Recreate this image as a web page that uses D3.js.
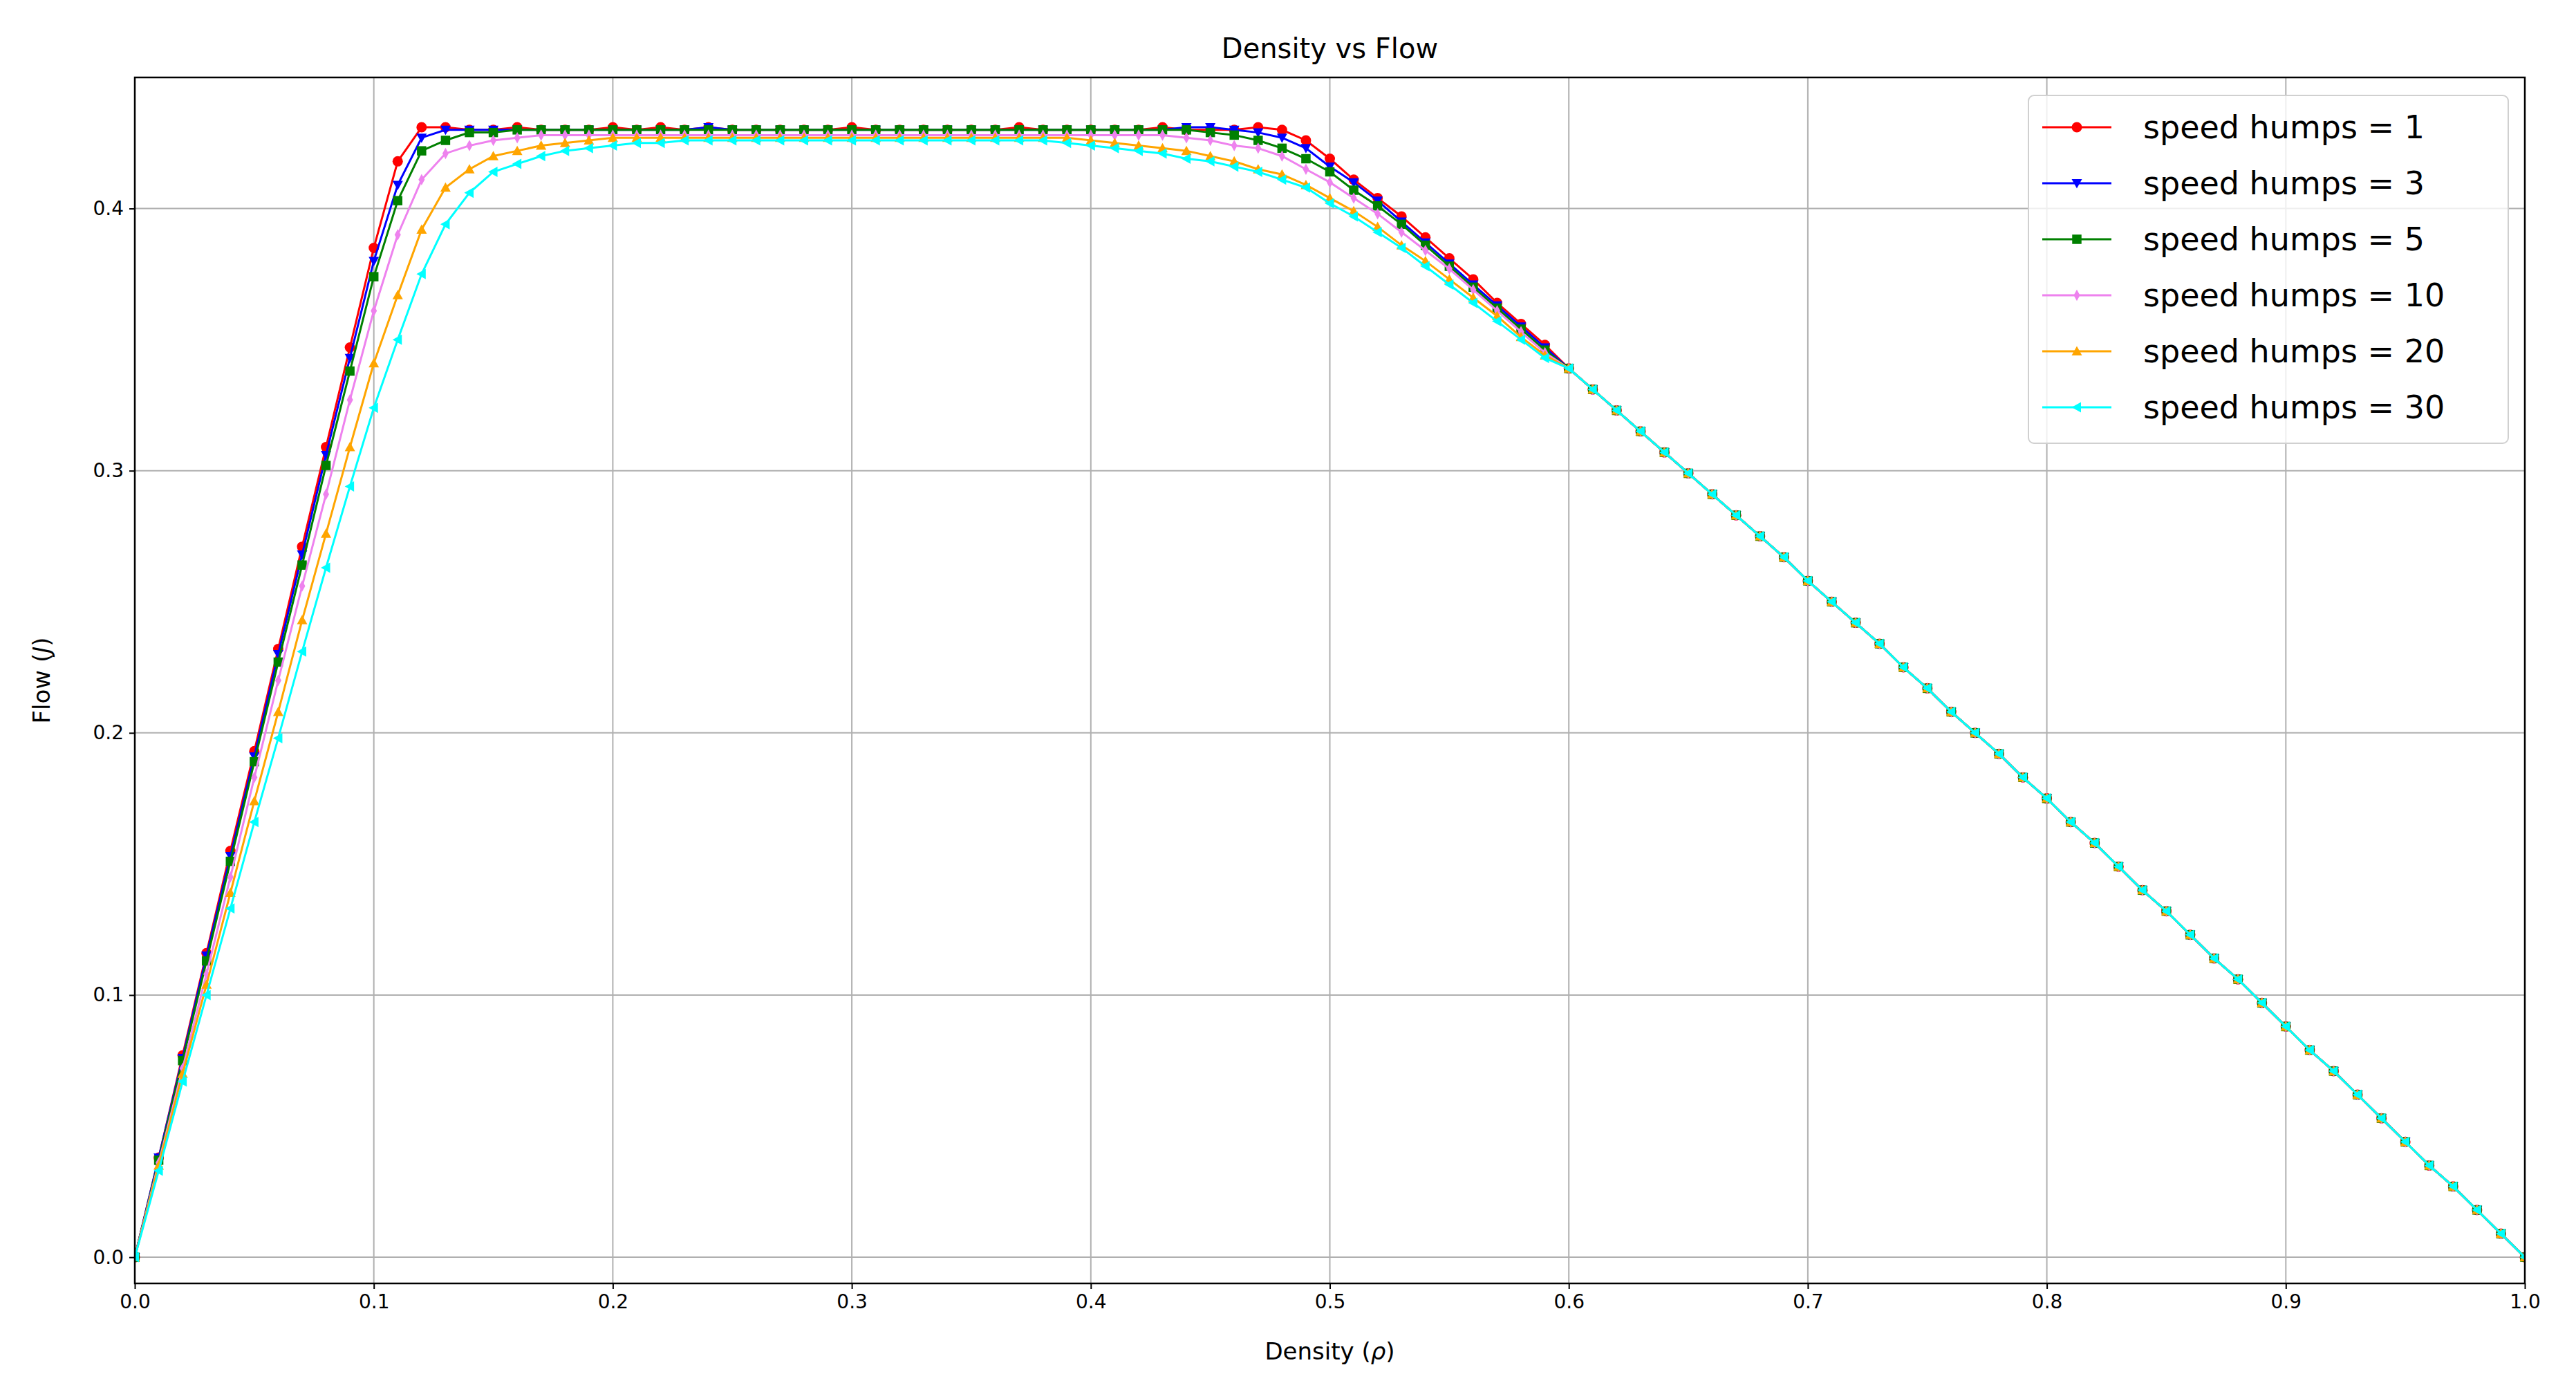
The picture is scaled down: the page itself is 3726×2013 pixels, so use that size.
<!DOCTYPE html>
<meta charset="utf-8">
<style>
body{margin:0;background:#fff}
text{font-family:"DejaVu Sans",sans-serif}
</style>
<script src="https://d3js.org/d3.v7.min.js"></script>
<svg width="3726" height="2013"></svg>
<script>
// density values 0.00 .. 1.00
const density = d3.range(0, 101).map(i => i / 100);

// shared high-density branch, rho = 0.60 .. 1.00
const tail = [.339,.331,.323,.315,.307,.299,.291,.283,.275,.267,
  .258,.250,.242,.234,.225,.217,.208,.200,.192,.183,
  .175,.166,.158,.149,.140,.132,.123,.114,.106,.097,
  .088,.079,.071,.062,.053,.044,.035,.027,.018,.009,
  0];

const humps1 = [0,.038,.077,.116,.155,.193,.232,.271,.309,.347,
  .385,.418,.431,.431,.430,.430,.431,.430,.430,.430,
  .431,.430,.431,.430,.431,.430,.430,.430,.430,.430,
  .431,.430,.430,.430,.430,.430,.430,.431,.430,.430,
  .430,.430,.430,.431,.430,.430,.430,.431,.430,.426,
  .419,.411,.404,.397,.389,.381,.373,.364,.356,.348].concat(tail);
const humps3 = [0,.038,.076,.115,.153,.191,.230,.268,.306,.343,
  .380,.409,.427,.430,.430,.430,.430,.430,.430,.430,
  .430,.430,.430,.430,.431,.430,.430,.430,.430,.430,
  .430,.430,.430,.430,.430,.430,.430,.430,.430,.430,
  .430,.430,.430,.430,.431,.431,.430,.429,.427,.423,
  .416,.410,.403,.395,.387,.379,.371,.363,.355,.347].concat(tail);
const humps5 = [0,.037,.075,.113,.151,.189,.227,.264,.302,.338,
  .374,.403,.422,.426,.429,.429,.430,.430,.430,.430,
  .430,.430,.430,.430,.430,.430,.430,.430,.430,.430,
  .430,.430,.430,.430,.430,.430,.430,.430,.430,.430,
  .430,.430,.430,.430,.430,.429,.428,.426,.423,.419,
  .414,.407,.401,.394,.386,.378,.370,.362,.354,.346].concat(tail);
const humps10 = [0,.036,.072,.108,.145,.183,.220,.256,.291,.327,
  .361,.390,.411,.421,.424,.426,.427,.428,.428,.428,
  .428,.428,.428,.428,.428,.428,.428,.428,.428,.428,
  .428,.428,.428,.428,.428,.428,.428,.428,.428,.428,
  .428,.428,.428,.428,.427,.426,.424,.423,.420,.415,
  .410,.404,.398,.391,.384,.377,.369,.361,.353,.345].concat(tail);
const humps20 = [0,.035,.070,.104,.139,.174,.208,.243,.276,.309,
  .341,.367,.392,.408,.415,.420,.422,.424,.425,.426,
  .427,.427,.427,.427,.427,.427,.427,.427,.427,.427,
  .427,.427,.427,.427,.427,.427,.427,.427,.427,.427,
  .426,.425,.424,.423,.422,.420,.418,.415,.413,.409,
  .404,.399,.393,.386,.380,.373,.366,.359,.351,.344].concat(tail);
const humps30 = [0,.033,.067,.100,.133,.166,.198,.231,.263,.294,
  .324,.350,.375,.394,.406,.414,.417,.420,.422,.423,
  .424,.425,.425,.426,.426,.426,.426,.426,.426,.426,
  .426,.426,.426,.426,.426,.426,.426,.426,.426,.425,
  .424,.423,.422,.421,.419,.418,.416,.414,.411,.408,
  .402,.397,.391,.385,.378,.371,.364,.357,.350,.343].concat(tail);

const labels = ["speed humps = 1","speed humps = 3","speed humps = 5","speed humps = 10","speed humps = 20","speed humps = 30"];
const colors = ["red","blue","green","violet","orange","cyan"];
const markers = ["circle","tdown","square","thindiamond","tup","tleft"];
const xTicks = [0,.1,.2,.3,.4,.5,.6,.7,.8,.9,1];
const yTicks = [0,.1,.2,.3,.4];

const series = [humps1,humps3,humps5,humps10,humps20,humps30];

const svg = d3.select('svg');
const pL = 195, pR = 3652, pT = 112, pB = 1856;
const x = d3.scaleLinear().domain([0,1]).range([pL,pR]);
const y = d3.scaleLinear().domain([-0.010,0.450]).range([pB,pT]);

function markerPath(m, r){
	switch(m){
		case "circle": return `M${r},0A${r},${r},0,1,1,${-r},0A${r},${r},0,1,1,${r},0Z`;
		case "square": r*=0.9; return `M${-r},${-r}H${r}V${r}H${-r}Z`;
		case "tdown": return `M${-r},${-r*0.8}L${r},${-r*0.8}L0,${r}Z`;
		case "tup": return `M${-r},${r*0.8}L${r},${r*0.8}L0,${-r}Z`;
		case "tleft": return `M${r*0.8},${-r}L${r*0.8},${r}L${-r},0Z`;
		case "thindiamond": return `M0,${-r*1.1}L${r*0.6},0L0,${r*1.1}L${-r*0.6},0Z`;
	}
}

// grid
svg.append('g').selectAll('line').data(xTicks).join('line')
	.attr('x1',d=>x(d)).attr('x2',d=>x(d)).attr('y1',pT).attr('y2',pB)
	.attr('stroke','#b0b0b0').attr('stroke-width',2);
svg.append('g').selectAll('line').data(yTicks).join('line')
	.attr('y1',d=>y(d)).attr('y2',d=>y(d)).attr('x1',pL).attr('x2',pR)
	.attr('stroke','#b0b0b0').attr('stroke-width',2);

svg.append('clipPath').attr('id','clip').append('rect')
	.attr('x',pL).attr('y',pT).attr('width',pR-pL).attr('height',pB-pT);

const line = d3.line().x((d,i)=>x(density[i])).y(d=>y(d));
const plot = svg.append('g').attr('clip-path','url(#clip)');
series.forEach((s,k)=>{
	const g = plot.append('g');
	g.append('path').attr('d',line(s)).attr('fill','none')
		.attr('stroke',colors[k]).attr('stroke-width',3);
	g.selectAll('path.m').data(s).join('path').attr('class','m')
		.attr('transform',(d,i)=>`translate(${x(density[i])},${y(d)})`)
		.attr('d',markerPath(markers[k],7.5)).attr('fill',colors[k]);
});

// axes
const xAxis = svg.append('g').attr('transform',`translate(0,${pB})`)
	.call(d3.axisBottom(x).tickValues(xTicks).tickFormat(d3.format('.1f')).tickSize(8).tickPadding(8));
const yAxis = svg.append('g').attr('transform',`translate(${pL},0)`)
	.call(d3.axisLeft(y).tickValues(yTicks).tickFormat(d3.format('.1f')).tickSize(8).tickPadding(8));
[xAxis,yAxis].forEach(a=>{
	a.select('.domain').remove();
	a.selectAll('line').attr('stroke','#000').attr('stroke-width',2);
	a.selectAll('text').attr('font-size',28).attr('fill','#000').attr('font-family','DejaVu Sans');
});
svg.append('rect').attr('x',pL).attr('y',pT).attr('width',pR-pL).attr('height',pB-pT)
	.attr('fill','none').attr('stroke','#000').attr('stroke-width',2.5);

svg.append('text').attr('x',(pL+pR)/2).attr('y',84).attr('text-anchor','middle')
	.attr('font-size',40).text('Density vs Flow');
const xl = svg.append('text').attr('x',(pL+pR)/2).attr('y',1966).attr('text-anchor','middle').attr('font-size',34);
xl.append('tspan').text('Density (');
xl.append('tspan').attr('font-style','italic').text('ρ');
xl.append('tspan').text(')');
const yl = svg.append('text').attr('transform',`translate(72,${(pT+pB)/2}) rotate(-90)`).attr('text-anchor','middle').attr('font-size',34);
yl.append('tspan').text('Flow (');
yl.append('tspan').attr('font-style','italic').text('J');
yl.append('tspan').text(')');

// legend
const lg = svg.append('g').attr('transform','translate(2934,138)');
lg.append('rect').attr('width',694).attr('height',503).attr('rx',8)
	.attr('fill','rgba(255,255,255,0.8)').attr('stroke','#d0d0d0').attr('stroke-width',2);
labels.forEach((t,k)=>{
	const gy = 46 + k*81;
	lg.append('line').attr('x1',20).attr('x2',120).attr('y1',gy).attr('y2',gy)
		.attr('stroke',colors[k]).attr('stroke-width',3);
	lg.append('path').attr('transform',`translate(70,${gy})`).attr('d',markerPath(markers[k],7.5)).attr('fill',colors[k]);
	lg.append('text').attr('x',166).attr('y',gy).attr('dy','0.35em').attr('font-size',46).text(t);
});
</script>
